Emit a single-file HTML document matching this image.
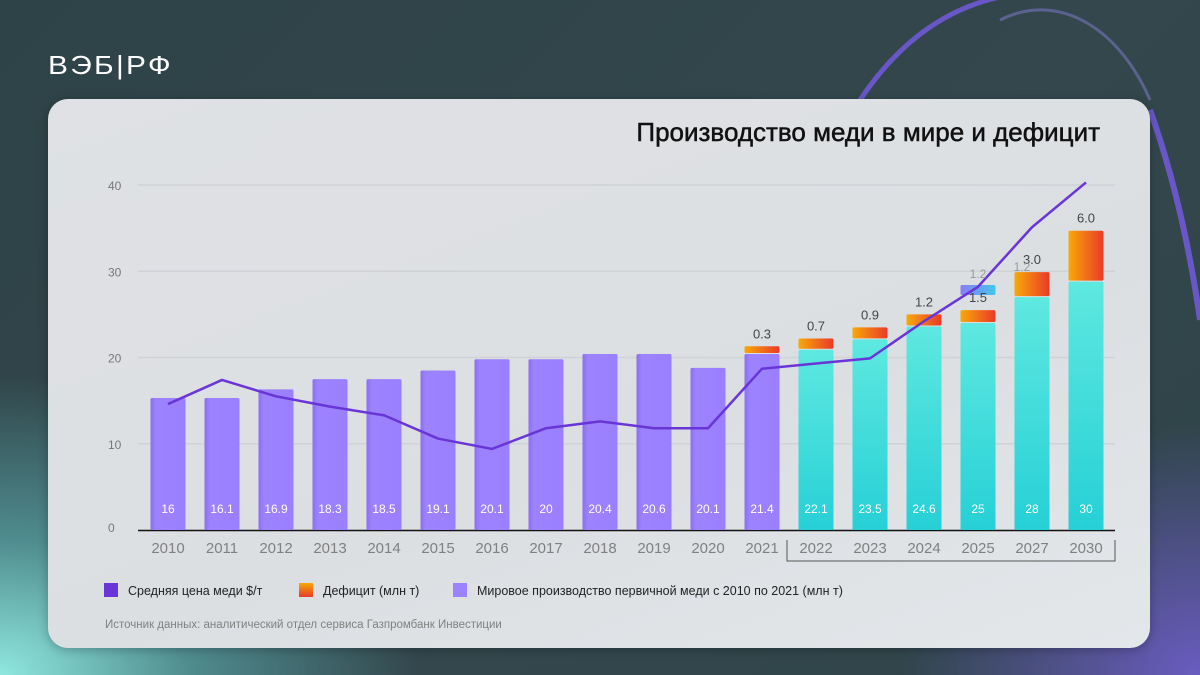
<!DOCTYPE html>
<html><head><meta charset="utf-8">
<style>
html,body{margin:0;padding:0;width:1200px;height:675px;overflow:hidden;font-family:"Liberation Sans","Noto Sans CJK SC",sans-serif;}
#bg{position:absolute;left:0;top:0;width:1200px;height:675px;background:radial-gradient(ellipse 420px 300px at 0px 675px,#8fe8df 0%,#4f8c8f 45%,rgba(47,68,72,0) 100%),radial-gradient(ellipse 300px 250px at 1200px 675px,#6a5cc0 0%,rgba(47,68,72,0) 100%),linear-gradient(135deg,#2e4347 0%,#33474d 60%,#2f4449 100%);}
#logo{position:absolute;left:48px;top:50px;color:#fff;font-size:26px;letter-spacing:2px;transform:scaleX(1.15);transform-origin:left;}
#card{position:absolute;left:48px;top:99px;width:1102px;height:549px;border-radius:20px;background:linear-gradient(160deg,#dfe1e4 0%,#dcdfe2 60%,#e3e7ea 100%);box-shadow:0 2px 10px rgba(0,0,0,.25);}
#title{position:absolute;right:50px;top:18px;font-size:26px;color:#111;-webkit-text-stroke:0.5px #111;}
</style></head><body>
<div id="bg"></div>
<svg style="position:absolute;left:0;top:0" width="1200" height="675">
<path d="M860 100 C900 40 950 5 1010 -5" stroke="#7c5cf0" stroke-width="5" fill="none" opacity=".75"/>
<path d="M1000 20 C1060 -10 1120 30 1150 100" stroke="#9c8cf5" stroke-width="3" fill="none" opacity=".4"/>
<path d="M1150 110 C1175 180 1190 250 1200 320" stroke="#7c5cf0" stroke-width="6" fill="none" opacity=".75"/>
</svg>
<div id="logo">ВЭБ|РФ</div>
<div id="card">
<div id="title">Производство меди в мире и дефицит</div>
</div>
<svg id="chart" style="position:absolute;left:0;top:0" width="1200" height="675">
<defs>
<linearGradient id="gP" x1="0" x2="1"><stop offset="0" stop-color="#8a6ef0"/><stop offset=".15" stop-color="#9c82ff"/><stop offset="1" stop-color="#9a80fe"/></linearGradient>
<linearGradient id="gC" x1="0" y1="0" x2="0" y2="1"><stop offset="0" stop-color="#5ee8e0"/><stop offset="1" stop-color="#26d0d6"/></linearGradient>
<linearGradient id="gD" x1="0" x2="1"><stop offset="0" stop-color="#f8a808"/><stop offset="1" stop-color="#ea3a2a"/></linearGradient>
<linearGradient id="gB" x1="0" x2="1"><stop offset="0" stop-color="#8a7cf6"/><stop offset="1" stop-color="#40c8e8"/></linearGradient>
<linearGradient id="gL" x1="0" y1="0" x2="0" y2="1"><stop offset="0" stop-color="#f8a808"/><stop offset="1" stop-color="#ea3a2a"/></linearGradient>
</defs>
<g id="grid"></g><g id="bars"></g><g id="line"></g><g id="labels"></g>
</svg>
<script>
const years=["2010","2011","2012","2013","2014","2015","2016","2017","2018","2019","2020","2021","2022","2023","2024","2025","2027","2030"];
const production=[15.3,15.3,16.3,17.5,17.5,18.5,19.8,19.8,20.4,20.4,18.8,20.4,20.9,22.1,23.6,24.0,27.0,28.8];
const productionLabels=["16","16.1","16.9","18.3","18.5","19.1","20.1","20","20.4","20.6","20.1","21.4","22.1","23.5","24.6","25","28","30"];
const deficit=[0,0,0,0,0,0,0,0,0,0,0,0.9,1.3,1.4,1.4,1.5,2.9,5.9];
const deficitLabels=["","","","","","","","","","","","0.3","0.7","0.9","1.2","1.5","3.0","6.0"];
const price=[14.6,17.4,15.5,14.3,13.3,10.6,9.4,11.8,12.6,11.8,11.8,18.7,19.3,19.9,24.2,28.2,35.1,40.3];
const yTicks=[0,10,20,30,40];
const NS="http://www.w3.org/2000/svg";
const x0=168,step=54.0,bw=35,yBase=530,yScale=8.625;
const X=i=>x0+i*step, Y=v=>yBase-v*yScale;
function mk(tag,attrs,parent,text){const e=document.createElementNS(NS,tag);for(const k in attrs)e.setAttribute(k,attrs[k]);if(text!==undefined)e.textContent=text;parent.appendChild(e);return e;}
const grid=document.getElementById('grid'),bars=document.getElementById('bars'),line=document.getElementById('line'),labels=document.getElementById('labels');
yTicks.forEach(t=>{
 if(t>0){const g=mk('line',{x1:138,x2:1115,y1:Y(t),y2:Y(t),stroke:'#cfd2d6','stroke-width':1.5},grid);
 
 }
 const tx=mk('text',{x:108,y:Y(t)+(t==0?2:5),'font-size':12,fill:'#777','text-anchor':'start'},labels,String(t));
 
 
});
years.forEach((yr,i)=>{
 const cx=X(i), forecast=i>=12;
 const r=mk('rect',{x:cx-bw/2,y:Y(production[i]),width:bw,height:production[i]*yScale,fill:forecast?'url(#gC)':'url(#gP)',rx:1.5},bars);
 
 
 if(deficit[i]>0){
  const d=mk('rect',{x:cx-bw/2,y:Y(production[i]+deficit[i]),width:bw,height:deficit[i]*yScale-1,fill:'url(#gD)',rx:1.5},bars);
  
  
  const dl=mk('text',{x:cx,y:Y(production[i]+deficit[i])-8,'font-size':13,fill:'#444','text-anchor':'middle'},labels,deficitLabels[i]);
  
  
 }
 const pl=mk('text',{x:cx,y:513,'font-size':12,fill:'#fff','text-anchor':'middle'},labels,productionLabels[i]);
 
 
 const xl=mk('text',{x:cx,y:553,'font-size':15,fill:'#808080','text-anchor':'middle'},labels,yr);
 
 
});
const fb=mk('rect',{x:X(15)-bw/2,y:Y(28.4),width:bw,height:10,fill:'url(#gB)',rx:1.5},bars);


const f1=mk('text',{x:X(15),y:Y(28.4)-7,'font-size':12,fill:'#999','text-anchor':'middle'},labels,'1.2');


const f2=mk('text',{x:X(16)-10,y:271,'font-size':12,fill:'#999','text-anchor':'middle'},labels,'1.2');


const ax=mk('line',{x1:138,x2:1115,y1:yBase+0.5,y2:yBase+0.5,stroke:'#111','stroke-width':1.5},grid);


const br=mk('path',{d:'M787 540 V561 H1115 V540',stroke:'#555','stroke-width':1,fill:'none'},grid);


const pline=mk('polyline',{points:price.map((v,i)=>X(i)+','+Y(v)).join(' '),fill:'none',stroke:'#6a35d6','stroke-width':2.5,'stroke-linejoin':'round'},line);


const leg=[['#6a35d6','Средняя цена меди $/т',104,'legend-price'],['url(#gL)','Дефицит (млн т)',299,'legend-deficit'],['#9c82ff','Мировое производство первичной меди с 2010 по 2021 (млн т)',453,'legend-production']];
leg.forEach(l=>{
 const g=mk('g',{},labels);
 
 
 mk('rect',{x:l[2],y:583,width:14,height:14,fill:l[0]},g);
 mk('text',{x:l[2]+24,y:595,'font-size':12.5,fill:'#222'},g,l[1]);
});
const src=mk('text',{x:105,y:628,'font-size':11.5,fill:'#808080'},labels,'Источник данных: аналитический отдел сервиса Газпромбанк Инвестиции');


</script>
</body></html>
